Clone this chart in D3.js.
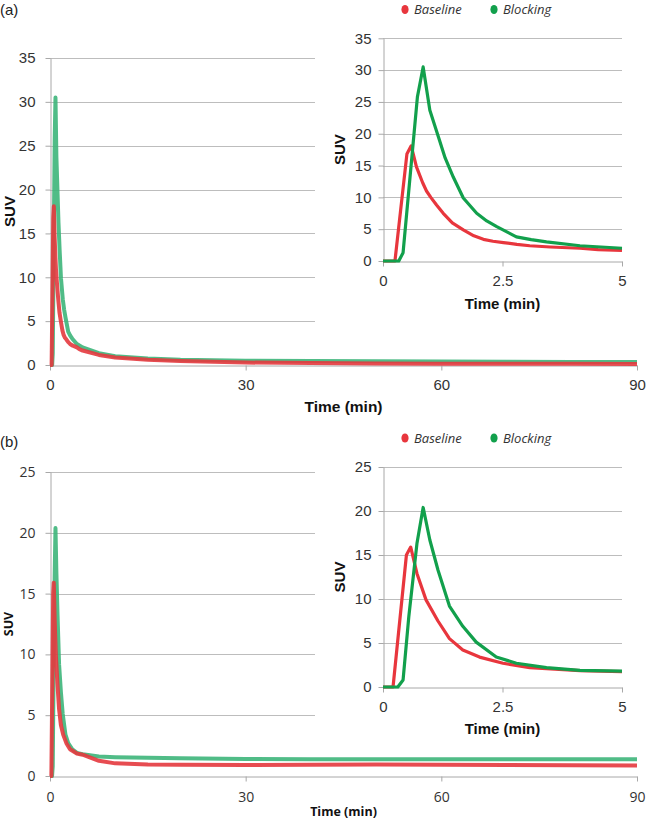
<!DOCTYPE html>
<html><head><meta charset="utf-8">
<script src="https://cdn.jsdelivr.net/npm/d3@7"></script>
<style>body{margin:0;background:#fff}svg{display:block}</style>
</head><body><svg id="c" width="647" height="820"></svg>
<script>
// ---------- data ----------
const panelLabels = ["(a)", "(b)"];
const seriesNames = ["Baseline", "Blocking"];
const mainXTicks = [0, 30, 60, 90];
const insetXTicks = [0, 2.5, 5];
const yTicksA = [0, 5, 10, 15, 20, 25, 30, 35];
const yTicksB = [0, 5, 10, 15, 20, 25];
const xLabel = "Time (min)";
const yLabel = "SUV";

// Panel (a)
const timeA_base = [0, 0.25, 0.5, 0.59, 0.7, 0.83, 0.91, 1.0, 1.12, 1.26, 1.45, 1.68, 1.9, 2.1, 2.3, 2.52, 2.8, 3.07, 3.5, 4.12, 4.5, 5, 7.5, 10, 15, 20, 30, 40, 50, 60, 70, 80, 90];
const suvA_base  = [0, 0, 16.8, 18.1, 14.8, 12.3, 11.0, 10.0, 8.8, 7.5, 6.0, 4.9, 3.95, 3.4, 3.1, 2.9, 2.6, 2.4, 2.2, 2.0, 1.8, 1.65, 1.15, 0.85, 0.6, 0.45, 0.28, 0.22, 0.18, 0.15, 0.14, 0.13, 0.12];
const timeA_block = [0, 0.33, 0.42, 0.72, 0.84, 0.98, 1.16, 1.3, 1.47, 1.68, 1.96, 2.17, 2.38, 2.79, 3.1, 3.42, 4.12, 5, 7.5, 10, 15, 20, 30, 40, 50, 60, 70, 80, 90];
const suvA_block  = [0, 0, 1.3, 25.8, 30.5, 23.7, 19.5, 16.2, 13.2, 9.9, 7.5, 6.3, 5.4, 3.8, 3.35, 3.0, 2.4, 2.0, 1.35, 1.0, 0.75, 0.6, 0.48, 0.45, 0.42, 0.4, 0.37, 0.35, 0.33];

// Panel (b)
const timeB_base = [0, 0.21, 0.49, 0.58, 0.71, 0.9, 1.15, 1.39, 1.67, 2.02, 2.51, 3.07, 4.12, 5, 7.5, 10, 15, 20, 30, 40, 50, 60, 70, 80, 90];
const suvB_base  = [0, 0, 15.0, 15.9, 12.9, 9.9, 7.5, 5.5, 4.2, 3.4, 2.7, 2.2, 1.85, 1.75, 1.25, 1.04, 0.95, 0.92, 0.9, 0.93, 0.95, 0.92, 0.9, 0.88, 0.87];
const timeB_block = [0, 0.31, 0.42, 0.54, 0.71, 0.84, 0.98, 1.15, 1.39, 1.67, 1.95, 2.37, 2.79, 3.42, 4.12, 5, 7.5, 10, 15, 20, 30, 40, 50, 60, 70, 80, 90];
const suvB_block  = [0, 0, 0.8, 8.0, 16.3, 20.4, 16.7, 13.3, 9.2, 6.9, 5.1, 3.4, 2.7, 2.2, 1.9, 1.8, 1.6, 1.55, 1.5, 1.45, 1.4, 1.38, 1.37, 1.37, 1.37, 1.37, 1.37];

// ---------- styles ----------
const mainColors = ["#e4393e", "#3db57a"];
const insetColors = ["#e8363d", "#12a04c"];
const gridColor = "#bdbdbd";
const axisColor = "#a8a8a8";

const svg = d3.select("#c");

function zip(t, v) { return t.map((d, i) => ({ t: d, v: v[i] })); }

function drawPanel(cfg) {
  const g = svg.append("g");
  // panel label
  g.append("text").attr("x", 0).attr("y", cfg.labelY)
    .style("font", "15px 'Liberation Sans', Arial, sans-serif").attr("fill", "#222")
    .text(cfg.label);

  // ---- main chart ----
  const m = cfg.main;
  const x = d3.scaleLinear().domain([0, 90]).range([m.x0, m.x1]);
  const y = d3.scaleLinear().domain([0, d3.max(cfg.yTicks)]).range([m.y0, m.y1]);

  // gridlines (cut off where the inset sits)
  g.append("g").selectAll("line").data(cfg.yTicks.filter(d => d > 0)).join("line")
    .attr("x1", m.x0).attr("x2", m.gridEnd)
    .attr("y1", d => Math.round(y(d)) + 0.5).attr("y2", d => Math.round(y(d)) + 0.5)
    .attr("stroke", gridColor).attr("stroke-width", 1);

  const ya = g.append("g").attr("transform", `translate(${m.x0 + 0.5},0)`)
    .call(d3.axisLeft(y).tickValues(cfg.yTicks).tickSize(5).tickSizeOuter(0).tickPadding(10));
  const xa = g.append("g").attr("transform", `translate(0,${Math.round(m.y0) + 0.5})`)
    .call(d3.axisBottom(x).tickValues(mainXTicks).tickSize(5).tickSizeOuter(0).tickPadding(m.xPad));
  [ya, xa].forEach(a => {
    a.select(".domain").attr("stroke", axisColor);
    a.selectAll(".tick line").attr("stroke", axisColor);
    a.selectAll(".tick text").attr("fill", "#333").style("font", m.tickFont);
  });

  // axis titles
  g.append("text").attr("transform", `translate(${m.yLabX},${(m.y0 + m.y1) / 2}) rotate(-90)`)
    .attr("text-anchor", "middle").attr("dy", "0.35em")
    .style("font", m.titleFontY).attr("fill", "#111").text(yLabel);
  g.append("text").attr("x", (m.x0 + m.x1) / 2).attr("y", m.xLabY)
    .attr("text-anchor", "middle").style("font", m.titleFontX).attr("fill", "#111").text(xLabel);

  const lineMain = d3.line().x(d => x(d.t)).y(d => y(d.v)).curve(d3.curveLinear);
  [1, 0].forEach(i => {
    g.append("path").datum(cfg.series[i]).attr("d", lineMain)
      .attr("fill", "none").attr("stroke", mainColors[i]).attr("stroke-width", 4)
      .attr("stroke-linejoin", "round").attr("stroke-opacity", 0.9);
  });

  // ---- inset ----
  const n = cfg.inset;
  const xi = d3.scaleLinear().domain([0, 5]).range([n.x0, n.x1]);
  const yi = d3.scaleLinear().domain([0, d3.max(cfg.yTicks)]).range([n.y0, n.y1]);

  g.append("g").selectAll("line").data(cfg.yTicks.filter(d => d > 0)).join("line")
    .attr("x1", n.x0).attr("x2", n.x1)
    .attr("y1", d => Math.round(yi(d)) + 0.5).attr("y2", d => Math.round(yi(d)) + 0.5)
    .attr("stroke", gridColor).attr("stroke-width", 1);

  const yia = g.append("g").attr("transform", `translate(${n.x0 + 0.5},0)`)
    .call(d3.axisLeft(yi).tickValues(cfg.yTicks).tickSize(5).tickSizeOuter(0).tickPadding(7));
  const xia = g.append("g").attr("transform", `translate(0,${Math.round(n.y0) + 0.5})`)
    .call(d3.axisBottom(xi).tickValues(insetXTicks).tickSize(5).tickSizeOuter(0).tickPadding(9)
      .tickFormat(d => String(d)));
  [yia, xia].forEach(a => {
    a.select(".domain").attr("stroke", axisColor);
    a.selectAll(".tick line").attr("stroke", axisColor);
    a.selectAll(".tick text").attr("fill", "#333").style("font", "15px 'Liberation Sans', Arial, sans-serif");
  });

  g.append("text").attr("transform", `translate(${n.yLabX},${(n.y0 + n.y1) / 2}) rotate(-90)`)
    .attr("text-anchor", "middle").attr("dy", "0.35em")
    .style("font", "bold 15px 'Liberation Sans', Arial, sans-serif").attr("fill", "#111").text(yLabel);
  g.append("text").attr("x", (n.x0 + n.x1) / 2).attr("y", n.xLabY)
    .attr("text-anchor", "middle").style("font", "bold 15px 'Liberation Sans', Arial, sans-serif")
    .attr("fill", "#111").text(xLabel);

  const lineInset = d3.line().x(d => xi(d.t)).y(d => yi(d.v)).curve(d3.curveLinear);
  [0, 1].forEach(i => {
    g.append("path").datum(cfg.series[i].filter(d => d.t <= 5)).attr("d", lineInset)
      .attr("fill", "none").attr("stroke", insetColors[i]).attr("stroke-width", 3.2)
      .attr("stroke-linejoin", "round");
  });

  // legend
  const leg = g.append("g").attr("transform", `translate(0,${cfg.legendY})`);
  const legX = [405, 494];
  seriesNames.forEach((s, i) => {
    leg.append("ellipse").attr("cx", legX[i]).attr("cy", 0).attr("rx", 3.6).attr("ry", 4.6)
      .attr("fill", insetColors[i]);
    leg.append("text").attr("x", legX[i] + 9).attr("y", 0).attr("dy", "0.35em")
      .style("font", "italic 13px 'Open Sans', sans-serif").attr("fill", "#333").text(s);
  });
}

drawPanel({
  label: panelLabels[0], labelY: 15, legendY: 9.5, yTicks: yTicksA,
  series: [zip(timeA_base, suvA_base), zip(timeA_block, suvA_block)],
  main: { x0: 50, x1: 637, y0: 365, y1: 58, gridEnd: 315, xPad: 9,
          yLabX: 10, xLabY: 412,
          tickFont: "15px 'Liberation Sans', Arial, sans-serif",
          titleFontY: "bold 15px 'Liberation Sans', Arial, sans-serif",
          titleFontX: "bold 15.5px 'Liberation Sans', Arial, sans-serif" },
  inset: { x0: 383, x1: 622, y0: 261, y1: 38.3, yLabX: 340, xLabY: 308.5 }
});

drawPanel({
  label: panelLabels[1], labelY: 447, legendY: 438, yTicks: yTicksB,
  series: [zip(timeB_base, suvB_base), zip(timeB_block, suvB_block)],
  main: { x0: 50, x1: 637, y0: 776, y1: 472, gridEnd: 315, xPad: 11,
          yLabX: 9, xLabY: 816,
          tickFont: "14px 'Open Sans', sans-serif",
          titleFontY: "bold 12.5px 'Open Sans', sans-serif",
          titleFontX: "bold 12.5px 'Open Sans', sans-serif" },
  inset: { x0: 383, x1: 622, y0: 687, y1: 467, yLabX: 340, xLabY: 733.5 }
});
</script>
</body></html>
